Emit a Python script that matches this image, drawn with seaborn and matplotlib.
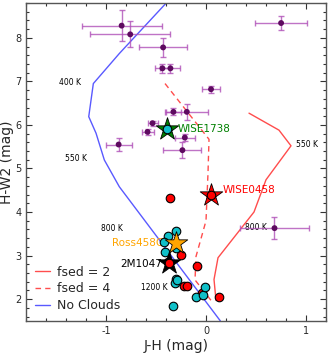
import numpy as np
import pandas as pd
import matplotlib
matplotlib.use("Agg")
import matplotlib.pyplot as plt
import seaborn as sns
from matplotlib.ticker import MultipleLocator

# ---- data ----
# brown dwarfs with error bars (purple)
obj_jh   = [-0.844, -0.758, -0.429, -0.436, -0.356, 0.05, -0.326, -0.192, -0.535, -0.585, -0.874, -0.212, -0.236, 0.751, 0.685]
obj_hw2  = [8.28, 8.08, 7.78, 7.30, 7.30, 6.82, 6.30, 6.30, 6.04, 5.84, 5.55, 5.71, 5.42, 8.34, 3.63]
obj_xerr = [0.40, 0.40, 0.24, 0.07, 0.10, 0.09, 0.08, 0.21, 0.05, 0.06, 0.13, 0.10, 0.19, 0.26, 0.35]
obj_yerr = [0.35, 0.30, 0.21, 0.10, 0.10, 0.08, 0.08, 0.18, 0.06, 0.06, 0.14, 0.08, 0.18, 0.15, 0.25]

# cyan circles
cyan_jh  = [-0.302, -0.379, -0.419, -0.409, -0.302, -0.302, -0.312, -0.286, -0.10, -0.034, -0.014, -0.326]
cyan_hw2 = [3.57, 3.45, 3.31, 3.09, 3.17, 2.46, 2.38, 2.44, 2.05, 2.10, 2.28, 1.85]

# red circles
red_jh  = [-0.359, -0.246, -0.376, -0.093, -0.22, -0.19, 0.13, -0.04]
red_hw2 = [4.32, 3.01, 2.86, 2.75, 2.29, 2.29, 2.05, 2.13]

# named objects (stars)
star_names = ["WISE1738", "WISE0458", "Ross458C", "2M1047"]
star_jh    = [-0.392, 0.047, -0.302, -0.369]
star_hw2   = [5.90, 4.39, 3.28, 2.84]

# model tracks
nocloud_jh  = [-0.402, -0.867, -1.127, -1.173, -1.10, -1.017, -0.867, 0.143]
nocloud_hw2 = [8.79, 7.64, 6.95, 6.19, 5.81, 5.195, 4.58, 1.50]
fsed2_jh  = [0.43, 0.73, 0.85, 0.60, 0.48, 0.12, 0.08, 0.10]
fsed2_hw2 = [6.27, 5.88, 5.52, 4.74, 4.00, 2.95, 2.45, 1.97]
fsed4_jh  = [-0.41, 0.03, 0.02, 0.00, -0.10, -0.11, 0.05]
fsed4_hw2 = [6.95, 5.67, 4.90, 3.80, 2.98, 2.44, 1.97]

temp_labels = ["400 K", "550 K", "800 K", "1200 K", "550 K", "800 K"]
temp_x = [-1.47, -1.41, -1.05, -0.65, 0.90, 0.39]
temp_y = [6.98, 5.23, 3.63, 2.27, 5.55, 3.65]

# ---- plot ----
sns.set_style("ticks")
plt.rcParams['font.family'] = ['DejaVu Sans']

fig = plt.figure(figsize=(3.34, 3.53), dpi=100)
ax = fig.add_axes([0.078, 0.091, 0.898, 0.9005])

red = "#ff2020"
blue = "#3030ff"

sns.lineplot(x=fsed2_jh, y=fsed2_hw2, sort=False, estimator=None, ax=ax, color=red, lw=1.0, alpha=0.8, label="fsed = 2")
sns.lineplot(x=fsed4_jh, y=fsed4_hw2, sort=False, estimator=None, ax=ax, color=red, lw=1.0, alpha=0.8, label="fsed = 4")
ax.lines[-1].set_linestyle((0, (4, 3)))
sns.lineplot(x=nocloud_jh, y=nocloud_hw2, sort=False, estimator=None, ax=ax, color=blue, lw=1.0, alpha=0.8, label="No Clouds")

ax.errorbar(obj_jh, obj_hw2, xerr=obj_xerr, yerr=obj_yerr, fmt="none",
            ecolor="#b050b8", elinewidth=1.0, capsize=2, capthick=1.0, alpha=0.8, zorder=3)
sns.scatterplot(x=obj_jh, y=obj_hw2, ax=ax, color="#5e0a60", s=18, edgecolor="none", zorder=4, legend=False)

sns.scatterplot(x=red_jh, y=red_hw2, ax=ax, color="red", s=38, edgecolor="black", linewidth=0.8, zorder=5, legend=False)
sns.scatterplot(x=cyan_jh, y=cyan_hw2, ax=ax, color="#10c0c8", s=38, edgecolor="black", linewidth=0.8, zorder=5, legend=False)

star_colors = ["green", "red", "orange", "black"]
inner_colors = ["#10c0c8", "red", None, "red"]
for i, n in enumerate(star_names):
    sns.scatterplot(x=[star_jh[i]], y=[star_hw2[i]], ax=ax, marker="*", s=290,
                    color=star_colors[i], edgecolor="black",
                    linewidth=0.6, zorder=6, legend=False)
    if inner_colors[i] is not None:
        sns.scatterplot(x=[star_jh[i]], y=[star_hw2[i]], ax=ax, marker="o", s=38,
                        color=inner_colors[i], edgecolor="black", linewidth=0.8, zorder=7, legend=False)

ax.text(star_jh[0] + 0.11, star_hw2[0], "WISE1738", color="green", fontsize=7.5, va="center", ha="left", zorder=8)
ax.text(star_jh[1] + 0.12, star_hw2[1] + 0.11, "WISE0458", color="red", fontsize=7.5, va="center", ha="left", zorder=8)
ax.text(star_jh[2] - 0.13, star_hw2[2], "Ross458C", color="orange", fontsize=7.5, va="center", ha="right", zorder=4)
ax.text(star_jh[3] - 0.07, star_hw2[3] - 0.04, "2M1047", color="black", fontsize=7.5, va="center", ha="right", zorder=8)

for t, x, y in zip(temp_labels, temp_x, temp_y):
    ax.text(x, y, t, fontsize=5.5, ha="left", va="center", color="black", zorder=2)

ax.set_xlim(-1.8, 1.2)
ax.set_ylim(1.5, 8.8)
ax.xaxis.set_major_locator(MultipleLocator(1))
ax.xaxis.set_minor_locator(MultipleLocator(0.2))
ax.yaxis.set_major_locator(MultipleLocator(1))
ax.yaxis.set_minor_locator(MultipleLocator(0.2))
ax.set_xticks([-1, 0, 1])
ax.set_xticklabels(["-1", "0", "1"])
ax.tick_params(which="both", direction="in", top=True, right=True, labelsize=7, width=0.8, color="#333333")
ax.tick_params(which="major", length=4)
ax.tick_params(which="minor", length=2)
for sp in ax.spines.values():
    sp.set_linewidth(1.0)
    sp.set_color("#555555")

ax.set_xlabel("J-H (mag)", fontsize=10, labelpad=2)
ax.set_ylabel("H-W2 (mag)", fontsize=10, labelpad=1)

leg = ax.legend(loc="lower left", frameon=False, fontsize=9, handlelength=1.2,
                borderaxespad=0.3, borderpad=0.4, labelspacing=0.3, handletextpad=0.6)

fig.savefig("out.png", dpi=100)
